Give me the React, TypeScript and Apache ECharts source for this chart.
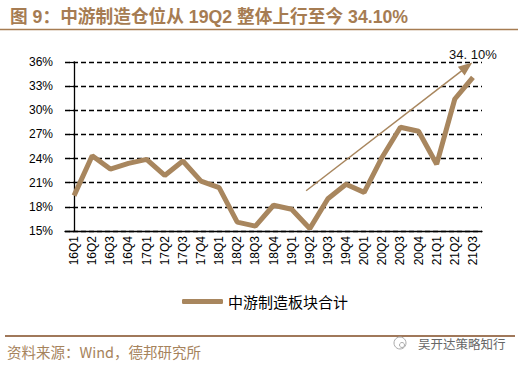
import React, { useEffect, useRef } from "react";
import * as echarts from "echarts";

const categories = [
  "16Q1", "16Q2", "16Q3", "16Q4", "17Q1", "17Q2", "17Q3", "17Q4",
  "18Q1", "18Q2", "18Q3", "18Q4", "19Q1", "19Q2", "19Q3", "19Q4",
  "20Q1", "20Q2", "20Q3", "20Q4", "21Q1", "21Q2", "21Q3",
];
const values = [
  19.4, 24.35, 22.7, 23.4, 23.9, 21.9, 23.7, 21.2,
  20.4, 16.1, 15.6, 18.2, 17.7, 15.3, 19.0, 20.8,
  19.8, 24.2, 27.9, 27.4, 23.3, 31.4, 34.1,
];
const seriesName = "中游制造板块合计";
const titleText = "图 9：中游制造仓位从 19Q2 整体上行至今 34.10%";
const annotationText = "34. 10%";
const arrowStart = [12.8, 20.0];
const arrowEnd = [21.66, 35.4];
const yMin = 15;
const yMax = 36;
const yStep = 3;
const sourceText = "资料来源：Wind，德邦研究所";
const watermarkText = "吴开达策略知行";

const BROWN = "#a8865e";
const TITLE_BROWN = "#a67c52";
const LATIN = "'Liberation Sans', Arial, sans-serif";
const CJK = "'Liberation Sans', 'Noto Sans CJK SC', sans-serif";

export default function App() {
  const ref = useRef<HTMLDivElement>(null);
  useEffect(() => {
    if (!ref.current) return;
    const chart = echarts.init(ref.current, undefined, { renderer: "svg" });
    chart.setOption({
      animation: false,
      title: {
        text: titleText,
        left: 5,
        top: 3,
        textStyle: { fontSize: 17.7, fontWeight: "bold", color: TITLE_BROWN, fontFamily: CJK },
      },
      grid: { left: 65, right: 36, top: 62, bottom: 135 },
      legend: {
        data: [seriesName],
        left: 177,
        top: 289,
        itemWidth: 41,
        itemHeight: 5,
        icon: "roundRect",
        textStyle: { fontSize: 15, color: "#000", fontFamily: "'Noto Sans CJK SC', sans-serif" },
      },
      xAxis: [
        {
          type: "category",
          data: categories,
          boundaryGap: true,
          axisLine: { lineStyle: { color: "#000", width: 1.3 } },
          axisTick: { length: 4, lineStyle: { color: "#000", width: 1.2 } },
          axisLabel: { rotate: 90, interval: 0, fontSize: 12, color: "#000", margin: 5, fontFamily: LATIN },
          splitLine: { show: false },
        },
        { type: "value", min: -0.5, max: 22.5, show: false },
      ],
      yAxis: {
        type: "value",
        min: yMin,
        max: yMax,
        interval: yStep,
        axisLine: { show: true, lineStyle: { color: "#000", width: 1.3 } },
        axisTick: { show: true, length: 5, lineStyle: { color: "#000", width: 1.2 } },
        axisLabel: { formatter: "{value}%", fontSize: 12, color: "#000", margin: 12, fontFamily: LATIN },
        splitLine: { show: true, lineStyle: { type: [5, 3], color: "#000", width: 1.3 } },
      },
      series: [
        {
          name: seriesName,
          type: "line",
          data: values,
          symbol: "none",
          lineStyle: { color: BROWN, width: 5 },
          itemStyle: { color: BROWN },
          markPoint: {
            silent: true,
            symbol: "circle",
            symbolSize: 0,
            data: [{ coord: [categories[categories.length - 1], values[values.length - 1]] }],
            label: {
              show: true,
              position: "top",
              distance: 16,
              formatter: annotationText,
              fontSize: 13,
              color: "#111",
              fontFamily: LATIN,
            },
          },
        },
        {
          type: "line",
          xAxisIndex: 1,
          data: [],
          markLine: {
            silent: true,
            symbol: ["none", "triangle"],
            symbolSize: [11, 14],
            lineStyle: { color: BROWN, width: 1.5, type: "solid" },
            label: { show: false },
            emphasis: { disabled: true },
            data: [[{ coord: arrowStart }, { coord: arrowEnd }]],
          },
        },
      ],
      graphic: [
        {
          type: "line",
          shape: { x1: 0, y1: 29.5, x2: 518, y2: 29.5 },
          style: { stroke: TITLE_BROWN, lineWidth: 1.5 },
        },
        {
          type: "line",
          shape: { x1: 5, y1: 336, x2: 515, y2: 336 },
          style: { stroke: "#a0785a", lineWidth: 2 },
        },
        {
          type: "text",
          x: 7,
          y: 351,
          style: {
            text: sourceText,
            fill: "#a6835c",
            fontSize: 14.5,
            fontFamily: "'Noto Sans CJK SC', sans-serif",
            verticalAlign: "middle",
          },
        },
        {
          type: "circle",
          shape: { cx: 400, cy: 343, r: 6 },
          style: { fill: "none", stroke: "#aaa", lineWidth: 1 },
        },
        {
          type: "circle",
          shape: { cx: 402, cy: 345, r: 2.5 },
          style: { fill: "none", stroke: "#aaa", lineWidth: 1 },
        },
        {
          type: "text",
          x: 418,
          y: 343,
          style: {
            text: watermarkText,
            fill: "#666",
            fontSize: 12.5,
            fontFamily: "'Noto Sans CJK SC', sans-serif",
            verticalAlign: "middle",
          },
        },
      ],
    });
    return () => chart.dispose();
  }, []);
  return (
    <div
      ref={ref}
      style={{ position: "fixed", left: 0, top: 0, width: 518, height: 366, background: "#fff" }}
    />
  );
}
